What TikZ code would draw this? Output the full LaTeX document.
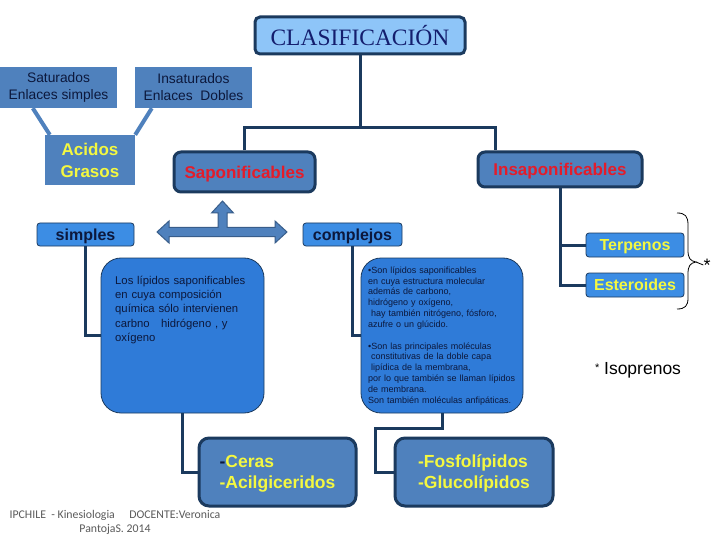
\documentclass[tikz,border=0pt]{standalone}
\usepackage{fontspec}
\setmainfont{Liberation Sans}
\newfontfamily\serifface{Liberation Serif}
\newfontfamily\footface{Carlito}
\usetikzlibrary{calc}
\definecolor{navy}{RGB}{27,58,94}
\definecolor{steel}{RGB}{79,129,189}
\definecolor{bright}{RGB}{60,141,228}
\definecolor{deep}{RGB}{47,123,216}
\definecolor{lightb}{RGB}{142,197,248}
\definecolor{redt}{RGB}{228,28,42}
\definecolor{yel}{RGB}{244,248,64}
\definecolor{ink}{RGB}{12,24,60}
\definecolor{foot}{RGB}{90,90,90}
\tikzset{
  plain/.style={fill=steel, inner sep=0pt, align=center, text=ink},
  heavy/.style={fill=steel, draw=navy, line width=3pt, rounded corners=7pt, inner sep=0pt, align=center},
  thin/.style={fill=bright, draw=navy, line width=0.8pt, rounded corners=3pt, inner sep=0pt, align=center},
  bigbox/.style={fill=deep, draw=navy, line width=0.8pt, rounded corners=20pt, inner sep=0pt},
  conn/.style={draw=navy, line width=3pt},
  sz/.style n args={2}{minimum width=#1pt, minimum height=#2pt}
}
\begin{document}
\begin{tikzpicture}[x=1pt,y=-1pt]
\useasboundingbox[fill=white] (0,0) rectangle (720,540);

% top
\node[fill=lightb, draw=navy, line width=3pt, rounded corners=5pt, inner sep=0pt, sz={210}{37},
      font=\serifface\fontsize{23.5}{26}\selectfont, text={rgb,255:red,20;green,30;blue,110}] (clas) at (360,35.5) {CLASIFICACIÓN};

\node[plain, sz={117}{41}, font=\fontsize{13.8}{17}\selectfont] (sat) at (58.5,87.5) {Saturados\\Enlaces simples};
\node[plain, sz={117}{41}, font=\fontsize{13.8}{17}\selectfont] (insat) at (193.5,87.5) {Insaturados\\Enlaces\ \ Dobles};
\node[plain, sz={90}{50}, font=\bfseries\fontsize{17}{22}\selectfont, text=yel] (acid) at (90,160) {Acidos\\Grasos};
\draw[steel, line width=4pt] ($(sat.south west)+(33,0)$) -- ($(acid.north west)+(5,0)$);
\draw[steel, line width=4pt] ($(insat.south west)+(17,0)$) -- ($(acid.north east)+(0,0)$);

\node[heavy, sz={141}{40}, text depth=0pt, font=\bfseries\fontsize{17}{20}\selectfont, text=redt] (sapo) at (244.5,172) {Saponificables};
\node[heavy, sz={164}{35}, text depth=0pt, font=\bfseries\fontsize{17}{20}\selectfont, text=redt] (insapo) at (560,169.5) {Insaponificables};

\coordinate (j) at (360,128);
\draw[conn] (clas.south) -- (j);
\draw[conn] (sapo.north) |- (j);
\draw[conn] (j) -| ($(insapo.north west)+(19,0)$);

% simples / complejos
\node[thin, sz={97}{23}, text depth=0pt, font=\bfseries\fontsize{16}{19}\selectfont, text=ink] (simp) at (85.5,234.5) {simples};
\node[thin, sz={99}{23}, text depth=0pt, font=\bfseries\fontsize{16}{19}\selectfont, text=ink] (compl) at (352.5,234.5) {complejos};

\draw[fill=steel, draw={rgb,255:red,56;green,93;blue,138}, line width=1pt, line join=miter]
  (157,232) -- (169,221) -- (169,227.5) -- (218,227.5) -- (218,213) -- (211.5,213) -- (222.5,201)
  -- (233.5,213) -- (227,213) -- (227,227.5) -- (275,227.5) -- (275,221) -- (287,232)
  -- (275,243) -- (275,236.5) -- (169,236.5) -- (169,243) -- cycle;

\node[bigbox, sz={163}{155}] (lip) at (182.5,335.5) {};
\node[bigbox, sz={162}{155}] (comp) at (442,335.5) {};

\node[anchor=north west, inner sep=0pt, text width=139pt, text=ink,
      font=\fontsize{11.3}{14.4}\selectfont] (lipt) at (115,275.5)
 {\makebox[139pt][s]{Los lípidos saponificables}\\
  \makebox[139pt][s]{en cuya composición}\\
  \makebox[139pt][s]{química sólo intervienen}\\
  \makebox[139pt][s]{carbno\quad hidrógeno , y}\\
  oxígeno};

\node[anchor=north west, inner sep=0pt, text width=155pt, text=ink,
      font=\fontsize{9}{10.83}\selectfont] (compt) at (368,266.5)
 {•Son lípidos saponificables\\
  en cuya estructura molecular\\
  además de carbono,\\
  hidrógeno y oxígeno,\\
  \hspace*{3pt}hay también nitrógeno, fósforo,\\
  azufre o un glúcido.\\
  \mbox{}\\
  •Son las principales moléculas\\
  \hspace*{3pt}constitutivas de la doble capa\\
  \hspace*{3pt}lipídica de la membrana,\\
  por lo que también se llaman lípidos\\
  de membrana.\\
  Son también moléculas anfipáticas.};

\draw[conn] (simp.south) |- (lip.west);
\draw[conn] (compl.south) |- (comp.west);

\node[heavy, rounded corners=10pt, sz={157}{68}, align=left, text=yel,
      font=\bfseries\fontsize{17.5}{21}\selectfont] (ceras) at (277.5,472)
 {\rule{0pt}{15pt}{\color{ink}-}Ceras\\-Acilgiceridos};
\node[heavy, rounded corners=10pt, sz={158}{68}, align=left, text=yel,
      font=\bfseries\fontsize{17.5}{21}\selectfont] (fosfo) at (474,472)
 {\rule{0pt}{15pt}-Fosfolípidos\\-Glucolípidos};

\draw[conn] (lip.south) |- (ceras.west);
\draw[conn] (comp.south) -- ++(0,15) -| ($(fosfo.west)+(-18,0)$) -- (fosfo.west);

% insaponificables branch
\node[thin, sz={98}{24}, text depth=0pt, font=\bfseries\fontsize{16}{19}\selectfont, text=yel] (terp) at (635,245) {Terpenos};
\node[thin, sz={98}{24}, text depth=0pt, font=\bfseries\fontsize{16}{19}\selectfont, text=yel] (ester) at (635,285) {Esteroides};
\draw[conn] (insapo.south) |- (ester.west);
\draw[conn] (insapo.south |- terp.west) -- (terp.west);

\coordinate (tip) at (696,262);
\draw[line width=0.8pt] (677,213) .. controls (685,213) and (688,216) .. (688,225) -- (688,250)
  .. controls (688,258) and (690,261) .. (tip)
  .. controls (690,263) and (688,266) .. (688,274) -- (688,298)
  .. controls (688,306) and (685,309) .. (677,309);
\node[inner sep=0pt, font=\fontsize{18}{20}\selectfont] (star) at (707,265) {*};
\draw[line width=0.8pt] (tip) -- (star.west);

\node[inner sep=0pt, font=\fontsize{17.5}{20}\selectfont] (iso) at (638,370) {\raisebox{3pt}{\fontsize{11}{12}\selectfont *} Isoprenos};

\node[inner sep=0pt, align=center, text=foot, font=\footface\fontsize{11.8}{14}\selectfont] (footer) at (115,522)
 {IPCHILE\ \ -\ Kinesiologia\quad\ DOCENTE:Veronica\\PantojaS. 2014};
\end{tikzpicture}
\end{document}
